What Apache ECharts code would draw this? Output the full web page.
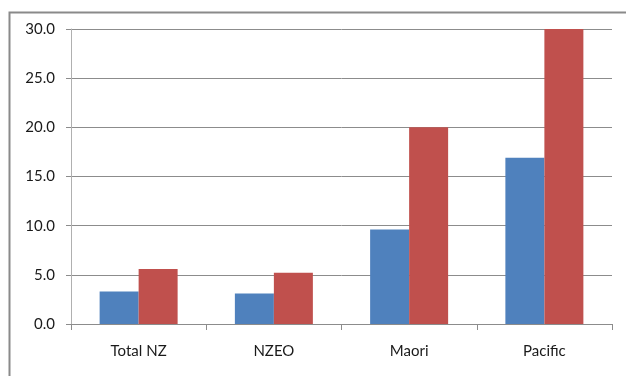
<!DOCTYPE html>
<html>
<head>
<meta charset="utf-8">
<script src="https://cdn.jsdelivr.net/npm/echarts@6/dist/echarts.min.js"></script>
<style>
  html, body { margin: 0; padding: 0; background: #fff; }
  #chart { width: 626px; height: 376px; }
</style>
</head>
<body>
<div id="chart"></div>
<script>
// Groups along the x axis
const categories = ['Total NZ', 'NZEO', 'Maori', 'Pacific'];
// Two series per group
const seriesBlue = [3.3, 3.1, 9.6, 16.9];
const seriesRed = [5.6, 5.2, 20.0, 30.0];
// Value axis range
const yMin = 0;
const yMax = 30;
const yStep = 5;

const axisGrey = '#8c8c8c';
const font = 'Lato, "Open Sans", "Liberation Sans", sans-serif';

const chart = echarts.init(document.getElementById('chart'), null, { renderer: 'canvas' });

chart.setOption({
  animation: false,
  backgroundColor: '#ffffff',
  graphic: [{
    type: 'rect',
    left: 7,
    top: 10,
    shape: { width: 700, height: 500 },
    style: { fill: 'none', stroke: '#8a8a8a', lineWidth: 2 },
    silent: true
  }],
  grid: { left: 71, right: 14, top: 29, bottom: 52, containLabel: false },
  xAxis: {
    type: 'category',
    data: categories,
    boundaryGap: true,
    axisLine: { lineStyle: { color: axisGrey, width: 1 } },
    axisTick: { show: true, length: 6, alignWithLabel: false, lineStyle: { color: axisGrey } },
    axisLabel: { color: '#1a1a1a', fontSize: 15, fontFamily: font, margin: 20 },
    splitLine: { show: false }
  },
  yAxis: {
    type: 'value',
    min: yMin,
    max: yMax,
    interval: yStep,
    axisLine: { show: true, lineStyle: { color: '#b0b0b0', width: 1 } },
    axisTick: { show: true, length: 5, lineStyle: { color: axisGrey } },
    axisLabel: {
      color: '#1a1a1a', fontSize: 15, fontFamily: font, margin: 16,
      formatter: v => v.toFixed(1)
    },
    splitLine: { show: true, lineStyle: { color: axisGrey, width: 1 } }
  },
  series: [
    {
      type: 'bar',
      data: seriesBlue,
      barWidth: 39,
      barGap: '0%',
      itemStyle: { color: '#4f81bd' }
    },
    {
      type: 'bar',
      data: seriesRed,
      barWidth: 39,
      barGap: '0%',
      itemStyle: { color: '#c0504d' }
    }
  ]
});
</script>
</body>
</html>
